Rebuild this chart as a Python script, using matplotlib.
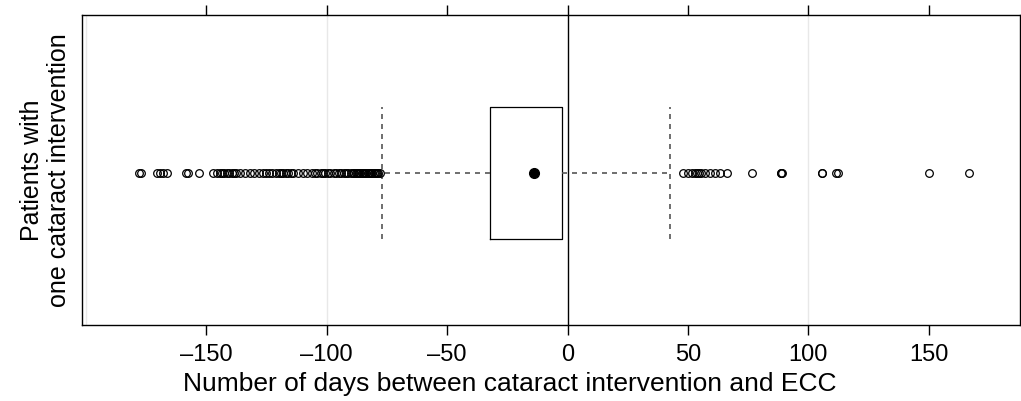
import matplotlib
matplotlib.use("Agg")
from matplotlib import pyplot as plt

plt.rcParams['font.family'] = ['Liberation Sans', 'DejaVu Sans']

# summary of the box (days)
q1 = -32.2
q3 = -2.3
median = -13.9
whisker_lo = -77.0
whisker_hi = 42.6

# outliers
outliers_low = [-178.0, -177.2, -170.4, -169.2, -168.0, -166.4, -158.4, -157.6, -153.0,
                -147, -145.5, -144.5, -143.5, -142.5, -141.5, -140.5, -139.5, -138.5, -137.5,
                -136, -134, -132, -130, -128, -126.5, -125, -124, -122.5, -121, -120, -119,
                -118, -117, -116, -115, -114, -112, -110, -108, -106, -105, -104, -102.5,
                -101.5, -100.5, -99.5, -98.5, -97, -96, -95, -94, -93, -92, -91, -90, -89,
                -88.5, -88, -87.5, -87, -86.5, -86, -85.5, -85, -84.5, -84, -83.5, -83,
                -82.5, -82, -81.5, -81, -80.5, -80, -79.5, -79, -78.5, -78]
outliers_high = [47.9, 50.0, 51.7, 52.9, 53.8, 54.6, 55.4, 57.1, 59.2, 61.2, 63.3, 66.2,
                 76.6, 88.7, 88.7, 88.9, 105.7, 105.7, 111.5, 112.3, 150.0, 166.7]

xticks = [-150, -100, -50, 0, 50, 100, 150]
grid_at = [-200, -100, 100]

fig = plt.figure(figsize=(10.21, 4.01), dpi=100)
ax = fig.add_axes([0.0803, 0.1895, 0.919, 0.773])

for g in grid_at:
    ax.axvline(g, color='#e8e8e8', lw=1, zorder=0)
ax.axvline(0, color='black', lw=1, zorder=1)

stats = [dict(med=median, q1=q1, q3=q3, whislo=whisker_lo, whishi=whisker_hi,
              fliers=outliers_low + outliers_high)]
ax.bxp(stats, positions=[1], widths=[0.5], capwidths=[0.5], orientation='horizontal',
       boxprops=dict(color='black', lw=0.9),
       whiskerprops=dict(color='#555555', lw=1.2, linestyle=(0, (3, 3))),
       capprops=dict(color='#555555', lw=1.2, linestyle=(0, (3, 3))),
       medianprops=dict(visible=False),
       flierprops=dict(marker='o', markersize=5.5, markerfacecolor='none',
                       markeredgecolor='black', markeredgewidth=0.9))
ax.plot([median], [1], 'o', color='black', markersize=7, zorder=5)

ax.set_xlim(-201.6, 188.0)
ax.set_ylim(0.426, 1.597)
ax.set_xticks(xticks)
ax.set_xticklabels(['\u2013150', '\u2013100', '\u201350', '0', '50', '100', '150'])
ax.set_yticks([])
ax.tick_params(axis='x', direction='out', length=7, width=1, labelsize=17,
               top=True, labeltop=False, pad=7)
for s in ax.spines.values():
    s.set_linewidth(1)

ax.set_xlabel('Number of days between cataract intervention and ECC', fontsize=19)
ax.xaxis.set_label_coords(0.456, -0.152)
ax.set_ylabel('Patients with\none cataract intervention', fontsize=18, labelpad=8,
              linespacing=1.15)

fig.savefig('out.png', dpi=100)
